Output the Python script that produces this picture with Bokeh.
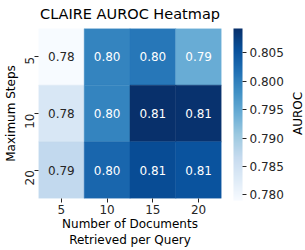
import math
from bokeh.plotting import figure
from bokeh.layouts import row
from bokeh.models import (ColumnDataSource, LinearColorMapper, ColorBar,
                          FixedTicker, PrintfTickFormatter, CategoricalAxis,
                          Range1d)
from bokeh.palettes import Blues256
from bokeh.transform import transform
from bokeh.embed import file_html
from bokeh.resources import INLINE
from bokeh.core.properties import value

# ---- data ----
docs = ["5", "10", "15", "20"]          # Number of documents retrieved per query
steps = ["5", "10", "20"]               # Maximum steps
auroc_steps_5 = [0.7790, 0.7995, 0.8010, 0.7945]
auroc_steps_10 = [0.7838, 0.7995, 0.8093, 0.8090]
auroc_steps_20 = [0.7870, 0.8030, 0.8060, 0.8052]
cbar_ticks = [0.780, 0.785, 0.790, 0.795, 0.800, 0.805]
cbar_title = ["AUROC"]
vmin, vmax = 0.7790, 0.8093

palette = list(reversed(Blues256))
FONT = "DejaVu Sans"
DARK = "#262626"

rows = {"5": auroc_steps_5, "10": auroc_steps_10, "20": auroc_steps_20}
xs, ys, vs, labels, tcs = [], [], [], [], []
for s in steps:
    for d, v in zip(docs, rows[s]):
        xs.append(d); ys.append(s); vs.append(v)
        labels.append(f"{v:.2f}")
        t = (v - vmin) / (vmax - vmin)
        idx = min(255, max(0, int(t * 255)))
        h = palette[idx].lstrip("#")
        r, g, b = [int(h[i:i + 2], 16) / 255 for i in (0, 2, 4)]
        def lin(c):
            return c / 12.92 if c <= 0.03928 else ((c + 0.055) / 1.055) ** 2.4
        lum = 0.2126 * lin(r) + 0.7152 * lin(g) + 0.0722 * lin(b)
        tcs.append(DARK if lum > 0.408 else "white")

src = ColumnDataSource(dict(doc=xs, step=ys, v=vs, label=labels, tc=tcs))
mapper = LinearColorMapper(palette=palette, low=vmin, high=vmax)

p = figure(x_range=docs, y_range=list(reversed(steps)), width=288, height=250,
           output_backend="svg", toolbar_location=None,
           min_border_left=37, min_border_right=67,
           min_border_top=28, min_border_bottom=51,
           title="CLAIRE AUROC Heatmap")

p.rect(x="doc", y="step", width=1, height=1, source=src,
       fill_color=transform("v", mapper), line_color=transform("v", mapper),
       line_width=0.5)
p.text(x="doc", y="step", text="label", text_color="tc", source=src,
       text_align="center", text_baseline="middle",
       text_font=value(FONT), text_font_size="12px")

p.title.align = "center"
p.title.vertical_align = "top"
p.title.text_font = FONT
p.title.text_font_size = "14.5px"
p.title.text_font_style = "normal"
p.title.text_color = "black"
p.title.standoff = 9

for ax in (p.xaxis, p.yaxis):
    ax.axis_line_color = None
    ax.major_tick_in = 0
    ax.major_tick_out = 4
    ax.major_tick_line_color = DARK
    ax.major_label_text_font = FONT
    ax.major_label_text_font_size = "12px"
    ax.major_label_text_color = DARK
    ax.axis_label_text_font = FONT
    ax.axis_label_text_font_size = "12px"
    ax.axis_label_text_font_style = "normal"
    ax.axis_label_text_color = "black"
    ax.major_label_standoff = 2

p.xaxis.axis_label = "Number of Documents\nRetrieved per Query"
p.xaxis.axis_label_standoff = 0
p.yaxis.axis_label = "Maximum Steps"
p.yaxis.axis_label_standoff = 0
p.yaxis.major_label_standoff = 5
p.yaxis.major_label_orientation = math.pi / 2

p.grid.visible = False
p.outline_line_color = None

# spacer between heatmap and colour bar
spacer = CategoricalAxis(axis_line_color=None, major_tick_line_color=None,
                         major_tick_in=0, major_tick_out=12,
                         major_label_standoff=0,
                         major_label_text_font_size="0px",
                         major_label_text_alpha=0)
p.add_layout(spacer, "right")

cb = ColorBar(color_mapper=mapper, ticker=FixedTicker(ticks=cbar_ticks),
              formatter=PrintfTickFormatter(format="%.3f"),
              width=9, height=172, padding=0, margin=0,
              major_tick_out=4, major_tick_in=0, major_tick_line_color=DARK,
              bar_line_color=None, label_standoff=3,
              major_label_text_font=FONT, major_label_text_font_size="12px",
              major_label_text_color=DARK,
              background_fill_alpha=0, border_line_color=None)
p.add_layout(cb, "right")

# narrow strip holding the colour bar's title, centred on the heatmap rows
p2 = figure(width=17, height=250, output_backend="svg", toolbar_location=None,
            x_range=Range1d(0, 1), y_range=p.y_range,
            x_axis_type=None, y_axis_type=None,
            min_border_left=0, min_border_right=0,
            min_border_top=28, min_border_bottom=51)
p2.grid.visible = False
p2.outline_line_color = None
p2.text(x=[0.55], y=[steps[1]], text=cbar_title, angle=math.pi / 2,
        text_align="center", text_baseline="middle",
        text_font=value(FONT), text_font_size="12px", text_color="black")

open("out.html", "w").write(file_html(row(p, p2), INLINE))
